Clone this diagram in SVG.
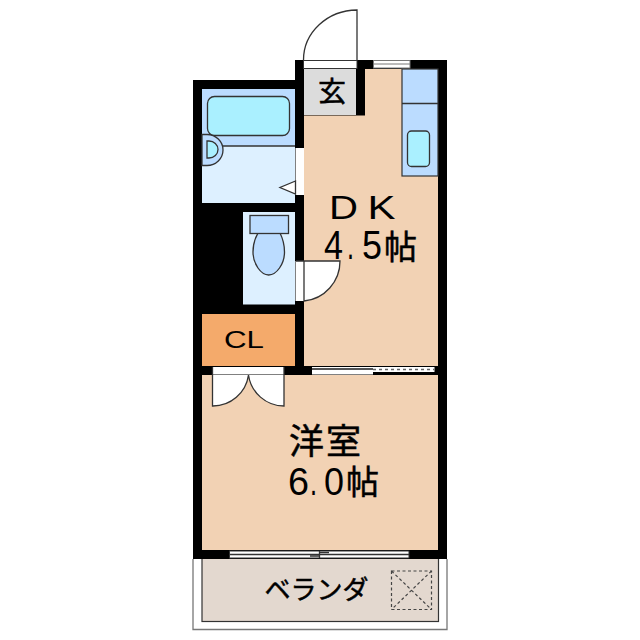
<svg xmlns="http://www.w3.org/2000/svg" width="640" height="640" viewBox="0 0 640 640">
<style>
.l{stroke:#333;stroke-width:1.3;fill:none}
.f{stroke:#333;stroke-width:1.3}
.w{fill:#fff}
.blue{fill:#bbdcff}
.pale{fill:#ddf0ff}
.aqua{fill:#aaf0ff}
.peach{fill:#f2d2b4}
.d{stroke:#444;stroke-width:1.2;fill:none;stroke-dasharray:3 2.5}
text{font-family:"Liberation Sans","Noto Sans CJK JP",sans-serif;fill:#000}
.h{stroke:#000;stroke-width:.5}
</style>
<rect width="640" height="640" fill="#fff"/>
<g id="veranda">
<path d="M193 559V629.500H447V559" fill="#fff" stroke="#777" stroke-width="1.300"/>
<rect x="202" y="558" width="236.500" height="63.500" fill="#e3d8cf" stroke="#333" stroke-width="1.200"/>
<rect x="391.500" y="571" width="40" height="38.500" class="d"/>
<path d="M391.500 571L431.500 609.500M431.500 571L391.500 609.500" class="d"/>
<text x="316.500" y="599" font-size="26" text-anchor="middle" class="h">ベランダ</text>
</g>
<g id="walls"><path d="M193 80H295V60H447V559H193Z" fill="#000"/></g>
<g id="entry">
<rect x="304" y="69" width="52" height="46" fill="#dcdcdc"/>
<text x="332" y="102" font-size="28" text-anchor="middle" class="h">玄</text>
</g>
<g id="dk">
<path d="M365 69H438V366H304V115.500H365Z" class="peach"/>
<rect x="402" y="69" width="36" height="107" class="blue" stroke="#333" stroke-width="1.200"/>
<path d="M402 103.500H438" class="l"/>
<rect x="407.500" y="131" width="22" height="35.500" rx="4" class="aqua f"/>
<text x="329" y="219" font-size="34" textLength="29" lengthAdjust="spacingAndGlyphs">D</text>
<text x="367.500" y="219" font-size="34" textLength="28" lengthAdjust="spacingAndGlyphs">K</text>
<text x="324" y="259" font-size="41" textLength="19" lengthAdjust="spacingAndGlyphs">4</text>
<text x="347" y="259" font-size="41" textLength="7" lengthAdjust="spacingAndGlyphs">.</text>
<text x="362" y="259" font-size="41" textLength="20" lengthAdjust="spacingAndGlyphs">5</text>
<text x="384" y="259" font-size="33" class="h">帖</text>
</g>
<g id="bath">
<rect x="202" y="89" width="93" height="114" class="pale"/>
<rect x="202" y="89" width="93" height="57" class="blue"/>
<path d="M202 146H295" class="l"/>
<rect x="207.500" y="96.500" width="82" height="39" rx="7" class="aqua f"/>
<path d="M202 134.500H207A16 15.500 0 0 1 207 165.500H202Z" class="blue f"/>
<path d="M207 141H209A9 8.500 0 0 1 209 158H207Z" class="aqua f"/>
<rect x="295.500" y="148" width="8.500" height="47" class="w"/>
<path d="M295.500 181L280 187.500L295.500 194Z" class="w f"/>
</g>
<g id="toilet">
<rect x="243" y="212" width="52" height="92.500" class="pale"/>
<path d="M258 233C254 240 253 247 253 252C253 264 261 275 268.700 275C276.500 275 284.500 264 284.500 252C284.500 247 283.500 240 280 233Z" class="blue f"/>
<rect x="250" y="215.500" width="38.500" height="18" class="blue f"/>
</g>
<g id="toilet-door">
<rect x="295.500" y="261" width="8.500" height="40" class="w"/>
<path d="M296 261H340A40 40 0 0 1 304 301V261Z" class="w f"/>
</g>
<g id="closet">
<rect x="202" y="314" width="93" height="52" fill="#f4aa6b"/>
<text x="224" y="348" font-size="24" textLength="40" lengthAdjust="spacingAndGlyphs">CL</text>
</g>
<g id="room">
<rect x="202" y="375" width="236" height="175" class="peach"/>
<rect x="212.500" y="367" width="71.500" height="7.500" class="w"/>
<path d="M212.500 375H248.500A36 36 0 0 1 212.500 406Z" class="w"/>
<path d="M284 375H248.500A36 36 0 0 0 284 406Z" class="w"/>
<path d="M212.500 367V406A36 36 0 0 0 248.500 375A36 36 0 0 0 284 406V367" class="l"/>
<text x="289" y="454" font-size="35" class="h">洋</text>
<text x="326" y="454" font-size="35" class="h">室</text>
<text x="288" y="495" font-size="39" textLength="21" lengthAdjust="spacingAndGlyphs">6</text>
<text x="310" y="495" font-size="39" textLength="7" lengthAdjust="spacingAndGlyphs">.</text>
<text x="324" y="495" font-size="39" textLength="20" lengthAdjust="spacingAndGlyphs">0</text>
<text x="346" y="494" font-size="33" class="h">帖</text>
</g>
<g id="openings">
<rect x="303.500" y="60.500" width="53.500" height="8" class="w" stroke="#333"/>
<path d="M357 60V10A54 50 0 0 0 303.500 60" class="l"/>
<rect x="373.500" y="60.500" width="36.500" height="7.500" class="w" stroke="#777"/>
<path d="M373.500 64H410" stroke="#777" stroke-width="1"/>
<rect x="312" y="367" width="122.500" height="5" class="w"/>
<rect x="312" y="372" width="61" height="2.500" class="w"/>
<path d="M312 369H373" stroke="#555" stroke-width="2"/>
<path d="M373 369.500H434.500" stroke="#666" stroke-width="1.500" stroke-dasharray="3 3" fill="none"/>
<rect x="229.500" y="551" width="179.500" height="7" class="w" stroke="#333" stroke-width="1"/>
<path d="M229.500 554.500H409" class="l"/>
<path d="M319.500 551V558M310 556H319.500M319.500 552.500H329" class="l"/>
</g>
</svg>
